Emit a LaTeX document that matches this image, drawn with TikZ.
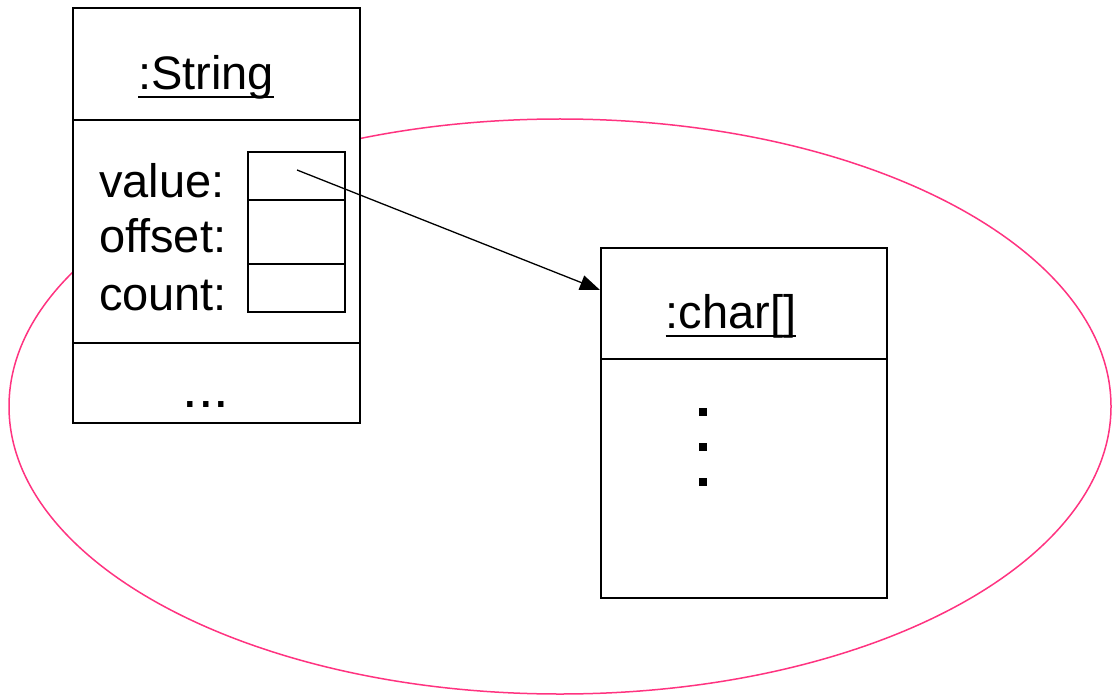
\documentclass[tikz,border=0pt]{standalone}
\usepackage{fontspec}
\setmainfont{Liberation Sans}
\usetikzlibrary{arrows.meta}
\definecolor{ellpink}{RGB}{255,51,128}
\tikzset{
  objbox/.style={draw=black, line width=1.6pt, fill=white, inner sep=0pt, outer sep=0pt},
  cell/.style={draw=black, line width=1.4pt, inner sep=0pt, outer sep=0pt, minimum width=97pt},
  bigtext/.style={font=\fontsize{47}{56}\selectfont, inner sep=0pt, outer sep=0pt},
  ulstyle/.style={line width=2.8pt},
  ref/.style={line width=1.3pt, -{Triangle[length=20pt,width=15pt]}},
  dotsq/.style={fill=black, inner sep=0pt, minimum size=8pt, outer sep=0pt},
}
\begin{document}
\begin{tikzpicture}[x=1pt,y=-1pt]
\useasboundingbox (0,0) rectangle (1113,695);
% enclosing ellipse
\draw[ellpink, line width=1.5pt] (560,406.5) ellipse [x radius=551, y radius=287.5];

% String object
\node[objbox, minimum width=287pt, minimum height=415pt] (strbox) at (216.5,215.5) {};
\draw[line width=1.6pt] (strbox.west |- 0,120) -- (strbox.east |- 0,120);
\draw[line width=1.6pt] (strbox.west |- 0,343) -- (strbox.east |- 0,343);
\node[bigtext, anchor=base] (strname) at (206,90) {:String};
\draw[ulstyle] ([yshift=-7pt]strname.base west) -- ([yshift=-7pt]strname.base east);
\node[bigtext, anchor=base west] (lvalue) at (99,197) {value:};
\node[bigtext, anchor=base west] (loffset) at (99,252) {offset:};
\node[bigtext, anchor=base west] (lcount) at (99,310) {count:};
\node[cell, minimum height=48pt] (vcell) at (296.5,176) {};
\node[cell, minimum height=64pt] (ocell) at (296.5,232) {};
\node[cell, minimum height=48pt] (ccell) at (296.5,288) {};
\node[bigtext, font=\fontsize{56}{60}\selectfont, anchor=base] (sdots) at (206,407) {...};

% char[] object
\node[objbox, minimum width=286pt, minimum height=350pt] (charbox) at (744,423) {};
\draw[line width=1.6pt] (charbox.west |- 0,359) -- (charbox.east |- 0,359);
\node[bigtext, anchor=base] (charname) at (731,328) {:char[]};
\draw[ulstyle] ([yshift=-8pt]charname.base west) -- ([yshift=-8pt]charname.base east);
\node[dotsq] (d1) at (703,412) {};
\node[dotsq] (d2) at (703,447) {};
\node[dotsq] (d3) at (703,482) {};

% reference arrow
\coordinate (vstart) at (297,170);
\coordinate (tip) at (600,290);
\draw[ref] (vstart) -- (tip);
\end{tikzpicture}
\end{document}
